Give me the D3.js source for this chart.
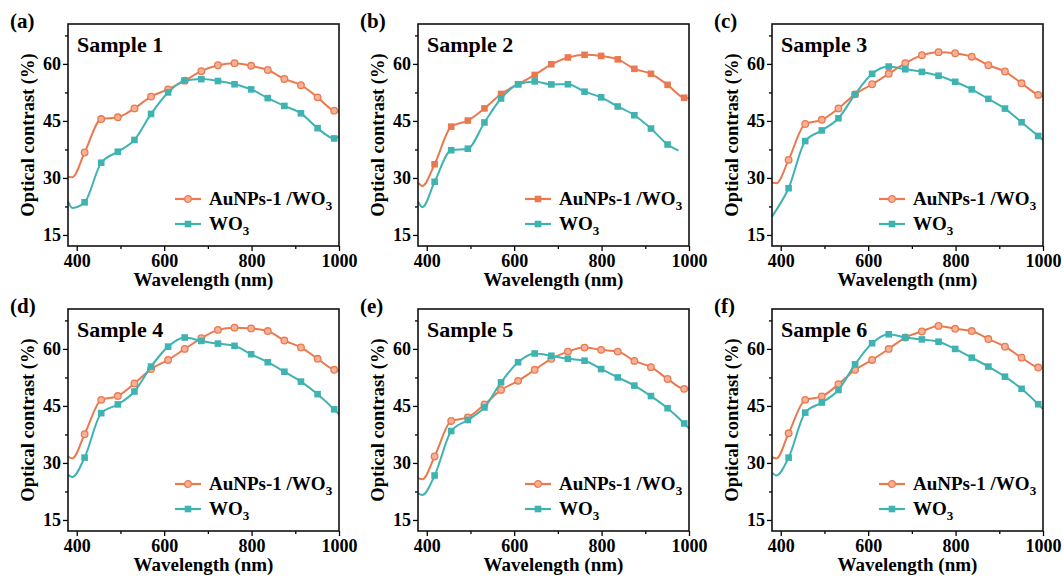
<!DOCTYPE html>
<html>
<head>
<meta charset="utf-8">
<script src="https://cdn.jsdelivr.net/npm/d3@7"></script>
<style>
  body { margin: 0; background: #fff; }
</style>
</head>
<body>
<svg id="chart" width="1064" height="576"></svg>
<script>
"use strict";

// wavelength grid (nm): line start, dip point, 16 marker positions, line end
const WL = [380, 390, 418, 456, 494, 532, 570, 609, 647, 685, 723, 761, 799, 837, 875, 913, 951, 989, 1000];
const X_TICKS = [400, 600, 800, 1000];
const X_MINOR = [500, 700, 900];
const Y_TICKS = [15, 30, 45, 60];
const Y_MINOR = [22.5, 37.5, 52.5, 67.5];

const PANEL_LABELS = ["(a)", "(b)", "(c)", "(d)", "(e)", "(f)"];
const SAMPLE_NAMES = ["Sample 1", "Sample 2", "Sample 3", "Sample 4", "Sample 5", "Sample 6"];
const AU_MARKER = ["circle", "square", "circle", "circle", "circle", "circle"];
const WO3_END_WL = [1000, 976, 1000, 1000, 1000, 1000];

// optical contrast (%) per panel, on the WL grid
const A_AU  = [30.35, 30.2, 36.7, 45.5, 45.96, 48.3, 51.4, 53.3, 55.6, 58.1, 59.65, 60.2, 59.5, 58.4, 56.05, 54.4, 51.2, 47.7, 47.5];
const A_WO3 = [23.8, 22.1, 23.6, 34.0, 36.9, 40.0, 46.85, 52.5, 55.6, 56.0, 55.5, 54.65, 53.3, 51.0, 48.95, 47.0, 43.1, 40.4, 40.9];
const B_AU  = [28.8, 27.9, 33.6, 43.5, 45.1, 48.3, 52.1, 54.65, 57.1, 59.9, 61.7, 62.4, 62.1, 61.2, 58.7, 57.4, 54.5, 51.1, 51.0];
const B_WO3 = [23.8, 22.3, 29.0, 37.3, 37.7, 44.6, 50.9, 54.65, 55.4, 54.6, 54.65, 52.7, 51.2, 48.8, 46.5, 43.0, 38.8, null, 37.2];
const C_AU  = [28.8, 28.6, 34.75, 44.2, 45.3, 48.3, 52.0, 54.65, 57.4, 60.2, 62.3, 63.1, 62.8, 61.9, 59.65, 58.0, 54.9, 51.85, 51.4];
const C_WO3 = [19.8, 21.6, 27.3, 39.7, 42.5, 45.7, 52.0, 57.4, 59.3, 58.6, 57.9, 56.9, 55.3, 53.3, 50.8, 48.25, 44.65, 41.05, 40.0];
const D_AU  = [31.7, 31.2, 37.55, 46.6, 47.6, 50.9, 54.7, 57.1, 60.0, 62.8, 65.0, 65.6, 65.4, 64.7, 62.2, 60.4, 57.4, 54.5, 54.2];
const D_WO3 = [26.85, 26.3, 31.4, 43.1, 45.4, 48.8, 55.35, 60.6, 63.0, 62.1, 61.4, 60.8, 58.6, 56.5, 54.0, 51.4, 48.1, 44.1, 42.8];
const E_AU  = [26.0, 25.7, 31.7, 41.05, 42.0, 45.4, 49.2, 51.6, 54.5, 57.4, 59.3, 60.35, 59.75, 59.3, 56.85, 55.2, 52.1, 49.5, 49.5];
const E_WO3 = [22.0, 21.6, 26.7, 38.4, 41.3, 44.6, 51.2, 56.5, 58.8, 58.2, 57.4, 56.9, 54.7, 52.5, 50.35, 47.6, 44.4, 40.4, 39.1];
const F_AU  = [31.5, 31.2, 37.8, 46.6, 47.5, 50.7, 54.5, 57.1, 60.0, 63.0, 64.6, 66.05, 65.3, 64.7, 62.6, 60.6, 57.7, 55.1, 54.9];
const F_WO3 = [27.45, 26.7, 31.4, 43.25, 45.9, 49.2, 55.95, 61.5, 63.85, 63.0, 62.5, 61.9, 60.0, 57.7, 55.35, 52.7, 49.5, 45.45, 44.2];

const AU_SERIES = [A_AU, B_AU, C_AU, D_AU, E_AU, F_AU];
const WO3_SERIES = [A_WO3, B_WO3, C_WO3, D_WO3, E_WO3, F_WO3];

const ORANGE = "#E97A50";
const ORANGE_FILL = "#F6B196";
const TEAL = "#3FB3B1";
const FONT = "'Liberation Serif'";

const COL_X = [68, 418, 772];
const ROW_Y = [24, 309];
const W = 271, H = 222;

const x = d3.scaleLinear().domain([380, 1000]).range([0, W]);
const y = d3.scaleLinear().domain([12.1, 70.5]).range([H, 0]);

function toPoints(vals, endWl) {
    let pts = [];
    vals.forEach((v, i) => {
        if (v == null) return;
        let wl = (i == WL.length - 1) ? endWl : WL[i];
        pts.push({ wl: wl, v: v, marker: i >= 2 && i <= 17 });
    });
    return pts;
}

function drawMarker(g, shape, cx, cy, stroke, fill) {
    if (shape == "circle") {
        g.append("circle").attr("cx", cx).attr("cy", cy).attr("r", 3.3)
            .attr("fill", fill).attr("stroke", stroke).attr("stroke-width", 1.3);
    } else {
        g.append("rect").attr("x", cx - 3.3).attr("y", cy - 3.3)
            .attr("width", 6.6).attr("height", 6.6).attr("fill", stroke);
    }
}

function drawSeries(g, pts, color, shape, fill) {
    let line = d3.line()
        .x(d => x(d.wl))
        .y(d => y(d.v))
        .curve(d3.curveMonotoneX);
    g.append("path").datum(pts)
        .attr("d", line)
        .attr("fill", "none")
        .attr("stroke", color)
        .attr("stroke-width", 2);
    pts.filter(d => d.marker).forEach(d => drawMarker(g, shape, x(d.wl), y(d.v), color, fill));
}

function styleText(sel, size) {
    return sel.style("font-family", FONT)
        .style("font-weight", "bold")
        .style("font-size", size + "px")
        .style("fill", "#000");
}

function addText(sel, size) {
    return styleText(sel.append("text"), size);
}

function drawPanel(svg, k) {
    let g = svg.append("g")
        .attr("transform", `translate(${COL_X[k % 3]}, ${ROW_Y[Math.floor(k / 3)]})`);

    // axes
    let yAxis = g.append("g")
        .call(d3.axisLeft(y).tickValues(Y_TICKS).tickSize(5).tickSizeOuter(0).tickPadding(2));
    yAxis.select(".domain").remove();
    g.append("g")
        .call(d3.axisLeft(y).tickValues(Y_MINOR).tickSize(3).tickFormat(""))
        .select(".domain").remove();

    let xAxis = g.append("g")
        .attr("transform", `translate(0, ${H})`)
        .call(d3.axisBottom(x).tickValues(X_TICKS).tickFormat(d3.format("d"))
            .tickSize(5).tickSizeOuter(0).tickPadding(3));
    xAxis.select(".domain").remove();
    g.append("g")
        .attr("transform", `translate(0, ${H})`)
        .call(d3.axisBottom(x).tickValues(X_MINOR).tickSize(3).tickFormat(""))
        .select(".domain").remove();
    styleText(g.selectAll(".tick text"), 18);
    g.selectAll(".tick line").attr("stroke-width", 1.3);

    // series
    drawSeries(g, toPoints(AU_SERIES[k], 1000), ORANGE, AU_MARKER[k], ORANGE_FILL);
    drawSeries(g, toPoints(WO3_SERIES[k], WO3_END_WL[k]), TEAL, "square", TEAL);

    // frame
    g.append("rect")
        .attr("width", W).attr("height", H)
        .attr("fill", "none").attr("stroke", "#111").attr("stroke-width", 1.6);

    // labels
    addText(svg, 21)
        .attr("x", COL_X[k % 3] - 58)
        .attr("y", ROW_Y[Math.floor(k / 3)] + 4)
        .text(PANEL_LABELS[k]);
    addText(g, 22)
        .attr("x", 9).attr("y", 28)
        .text(SAMPLE_NAMES[k]);
    addText(g, 19)
        .attr("x", W / 2).attr("y", H + 40)
        .attr("text-anchor", "middle")
        .text("Wavelength (nm)");
    addText(g, 18.5)
        .attr("transform", `translate(-34, ${H / 2}) rotate(-90)`)
        .attr("text-anchor", "middle")
        .text("Optical contrast (%)");

    // legend
    let legend = [
        { name: "AuNPs-1 /WO", color: ORANGE, shape: AU_MARKER[k], fill: ORANGE_FILL, dy: 175 },
        { name: "WO", color: TEAL, shape: "square", fill: TEAL, dy: 200 }
    ];
    legend.forEach(item => {
        let lg = g.append("g").attr("transform", `translate(0, ${item.dy})`);
        lg.append("line").attr("x1", 107).attr("x2", 133).attr("y1", 0).attr("y2", 0)
            .attr("stroke", item.color).attr("stroke-width", 2.2);
        drawMarker(lg, item.shape, 120, 0, item.color, item.fill);
        let t = addText(lg, 19).attr("x", 141).attr("y", 6);
        t.append("tspan").text(item.name);
        t.append("tspan").attr("dy", 5).style("font-size", "13px").text("3");
    });
}

const svg = d3.select("#chart");
for (let k = 0; k < 6; k++) drawPanel(svg, k);
</script>
</body>
</html>
